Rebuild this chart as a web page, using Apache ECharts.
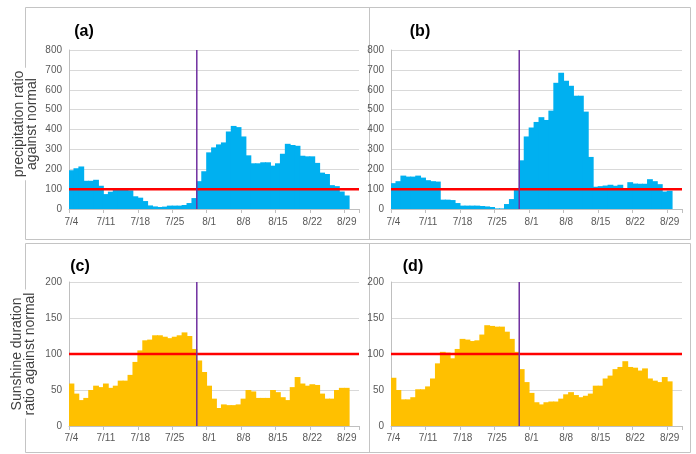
<!DOCTYPE html>
<html>
<head>
<meta charset="utf-8">
<script src="https://cdn.jsdelivr.net/npm/echarts@6/dist/echarts.min.js"></script>
<style>
html,body{margin:0;padding:0;background:#fff;}
#chart{width:696px;height:454px;}
</style>
</head>
<body>
<div id="chart"></div>
<script>
// Categories: daily dates 7/4 .. 8/31
const dates = [
  '7/4','7/5','7/6','7/7','7/8','7/9','7/10','7/11','7/12','7/13','7/14','7/15','7/16','7/17',
  '7/18','7/19','7/20','7/21','7/22','7/23','7/24','7/25','7/26','7/27','7/28','7/29','7/30','7/31',
  '8/1','8/2','8/3','8/4','8/5','8/6','8/7','8/8','8/9','8/10','8/11','8/12','8/13','8/14',
  '8/15','8/16','8/17','8/18','8/19','8/20','8/21','8/22','8/23','8/24','8/25','8/26','8/27','8/28',
  '8/29','8/30','8/31'
];

// (a) precipitation ratio against normal
const precipA = [
  195,205,214,142,142,147,117,75,87,97,100,100,94,64,
  57,40,18,13,10,12,17,17,17,20,30,55,140,190,
  285,310,325,335,390,418,412,365,270,230,230,235,235,218,
  230,278,328,322,318,268,265,265,232,183,176,120,115,88,
  68
];
// (b) precipitation ratio against normal
const precipB = [
  130,140,168,163,163,168,158,145,140,138,47,47,45,30,
  17,17,17,17,15,13,10,3,3,25,50,97,245,365,
  410,438,462,448,495,635,685,645,620,570,570,490,262,112,
  115,118,122,117,122,102,135,128,127,127,150,140,125,88,
  92
];
// (c) sunshine duration ratio against normal
const sunC = [
  59,45,36,39,50,56,54,59,53,56,63,63,71,89,
  105,119,120,126,126,124,122,124,126,130,125,107,91,75,
  56,38,25,30,29,29,30,38,50,48,39,39,39,50,
  47,40,36,54,68,59,56,58,57,45,38,38,50,53,
  53
];
// (d) sunshine duration ratio against normal
const sunD = [
  67,50,37,37,40,51,51,55,66,87,103,102,94,107,
  121,120,118,119,127,140,139,138,138,131,121,103,79,61,
  46,33,30,33,34,34,38,44,47,43,40,42,45,56,
  56,66,70,79,82,90,82,81,77,80,66,63,61,68,
  62
];

// Axis settings
const precipMax = 800, precipStep = 100;
const sunMax = 200, sunStep = 50;
const normalLevel = 100;      // 100% of normal (red line)
const boundaryDay = 26;       // boundary between 7/29 and 7/30 (purple line)
const panelLabels = ['(a)','(b)','(c)','(d)'];
const panelData = [precipA, precipB, sunC, sunD];
const panelMax = [precipMax, precipMax, sunMax, sunMax];
const panelStep = [precipStep, precipStep, sunStep, sunStep];
const blue = '#00b0f0', orange = '#ffc000';
const panelColor = [blue, blue, orange, orange];

const grids = [
  {left:69, top:50, width:290, height:159},
  {left:391, top:50, width:291, height:159},
  {left:69, top:282, width:290, height:144},
  {left:391, top:282, width:291, height:144}
];

const labelFont = "'Liberation Sans Narrow','Liberation Sans',Arial,sans-serif";
const xAxes = [], yAxes = [], series = [];
grids.forEach((g, i) => {
  xAxes.push({
    type:'category', gridIndex:i, data:dates, boundaryGap:true,
    axisLine:{show:true, lineStyle:{color:'#bfbfbf', width:1}},
    axisTick:{show:true, length:4, interval:(idx)=>idx%7===0, lineStyle:{color:'#bfbfbf'}},
    axisLabel:{interval:(idx)=>idx%7===0, color:'#595959', fontSize:10, fontFamily:labelFont, margin: i<2?8:7},
    splitLine:{show:false}
  });
  xAxes.push({
    type:'value', gridIndex:i, min:0, max:dates.length, show:false,
    splitLine:{show:false}
  });
  yAxes.push({
    type:'value', gridIndex:i, min:0, max:panelMax[i], interval:panelStep[i],
    axisLine:{show:true, lineStyle:{color:'#bfbfbf', width:1}},
    axisTick:{show:false},
    axisLabel:{color:'#595959', fontSize:10, fontFamily:labelFont, margin:7},
    splitLine:{show:true, lineStyle:{color:'#d9d9d9', width:1}}
  });
  series.push({
    type:'bar', xAxisIndex:2*i, yAxisIndex:i, data:panelData[i],
    barWidth:'118%',
    itemStyle:{color:panelColor[i]},
    animation:false, silent:true
  });
  series.push({
    type:'line', xAxisIndex:2*i+1, yAxisIndex:i,
    data:[[0, normalLevel],[dates.length, normalLevel]],
    symbol:'none', lineStyle:{color:'#ff0000', width:2.5},
    animation:false, silent:true, z:5
  });
  series.push({
    type:'line', xAxisIndex:2*i+1, yAxisIndex:i,
    data:[[boundaryDay, 0],[boundaryDay, panelMax[i]]],
    symbol:'none', lineStyle:{color:'#7030a0', width:1.5},
    animation:false, silent:true, z:6
  });
});

const frameColor = '#c4c4c4';
const graphic = [
  {type:'rect', shape:{x:25.5, y:7.5, width:665, height:232}, style:{fill:'none', stroke:frameColor, lineWidth:1}, z:-10},
  {type:'line', shape:{x1:369.5, y1:7.5, x2:369.5, y2:239.5}, style:{stroke:frameColor, lineWidth:1}, z:-10},
  {type:'rect', shape:{x:25.5, y:243.5, width:665, height:209}, style:{fill:'none', stroke:frameColor, lineWidth:1}, z:-10},
  {type:'line', shape:{x1:369.5, y1:243.5, x2:369.5, y2:452.5}, style:{stroke:frameColor, lineWidth:1}, z:-10},
  {type:'text', x:25.5, y:124, rotation:Math.PI/2, z:10,
    style:{text:'precipitation ratio\nagainst normal', fill:'#404040', font:"14px 'Liberation Sans',Arial,sans-serif",
      textAlign:'center', textVerticalAlign:'middle', lineHeight:13, backgroundColor:'#fff', padding:[0,3]}},
  {type:'text', x:24, y:354, rotation:Math.PI/2, z:10,
    style:{text:'Sunshine duration\nratio against normal', fill:'#404040', font:"14px 'Liberation Sans',Arial,sans-serif",
      textAlign:'center', textVerticalAlign:'middle', lineHeight:13, backgroundColor:'#fff', padding:[0,3]}}
];
const labelPos = [[84,32],[420,32],[80,267],[413,267]];
panelLabels.forEach((t, i) => {
  graphic.push({type:'text', x:labelPos[i][0], y:labelPos[i][1], z:10,
    style:{text:t, fill:'#000', font:"bold 16px 'Liberation Sans',Arial,sans-serif", textAlign:'center', textVerticalAlign:'middle'}});
});

const chart = echarts.init(document.getElementById('chart'), null, {renderer:'canvas'});
chart.setOption({
  animation:false,
  backgroundColor:'#fff',
  grid: grids.map(g => Object.assign({containLabel:false}, g)),
  xAxis: xAxes,
  yAxis: yAxes,
  series: series,
  graphic: graphic
});
</script>
</body>
</html>
